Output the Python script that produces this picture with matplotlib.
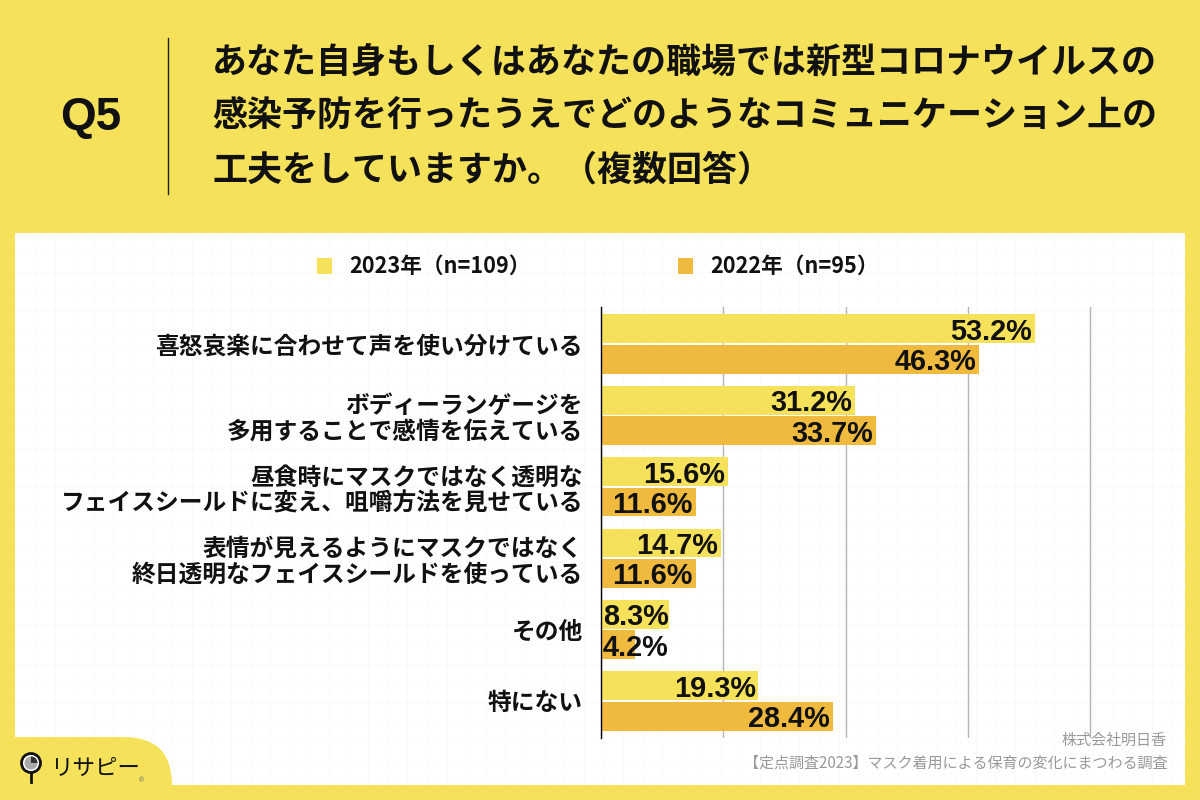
import matplotlib
matplotlib.use("Agg")
import matplotlib.pyplot as plt
from matplotlib.patches import Rectangle, FancyBboxPatch, Circle, Wedge
import numpy as np

plt.rcParams['font.family'] = ['Noto Sans CJK JP', 'DejaVu Sans']

categories = ["喜怒哀楽に合わせて声を使い分けている",
              "ボディーランゲージを\n多用することで感情を伝えている",
              "昼食時にマスクではなく透明な\nフェイスシールドに変え、咀嚼方法を見せている",
              "表情が見えるようにマスクではなく\n終日透明なフェイスシールドを使っている",
              "その他",
              "特にない"]
values_2023 = [53.2, 31.2, 15.6, 14.7, 8.3, 19.3]
values_2022 = [46.3, 33.7, 11.6, 11.6, 4.2, 28.4]
label_2023 = "2023年（n=109）"
label_2022 = "2022年（n=95）"
x_ticks = [0, 15, 30, 45, 60]
title_lines = ["あなた自身もしくはあなたの職場では新型コロナウイルスの",
               "感染予防を行ったうえでどのようなコミュニケーション上の",
               "工夫をしていますか。（複数回答）"]
source_lines = ["株式会社明日香", "【定点調査2023】マスク着用による保育の変化にまつわる調査"]

YELLOW = "#F6E25A"
ORANGE = "#EFBA3E"
W, H = 1200, 800
fig = plt.figure(figsize=(12, 8), dpi=100, facecolor=YELLOW)

bg = fig.add_axes([0, 0, 1, 1], zorder=0)
bg.set_xlim(0, W); bg.set_ylim(H, 0); bg.axis("off")
bg.add_patch(Rectangle((15, 233), 1170, 552, fc="white", ec="none"))
for gx in np.arange(35, 1185, 19.6):
    bg.plot([gx, gx], [233, 785], color="#FAFAFA", lw=0.7, zorder=1)
for gy in np.arange(252, 785, 19.6):
    bg.plot([15, 1185], [gy, gy], color="#FAFAFA", lw=0.7, zorder=1)
# logo tab
bg.add_patch(FancyBboxPatch((-60, 737), 232, 120, boxstyle="round,pad=0,rounding_size=48",
                            fc=YELLOW, ec="none", zorder=2))
bg.add_patch(Rectangle((0, 737), 15, 63, fc=YELLOW, ec="none", zorder=2))
bg.add_patch(Rectangle((0, 785), 1200, 15, fc=YELLOW, ec="none", zorder=2))
# header
bg.plot([167.5, 167.5], [38, 194], color="#222222", lw=1, zorder=3)
bg.text(91, 118, "Q5", fontsize=33, fontweight="bold", family=["Liberation Sans", "Noto Sans CJK JP"],
        ha="center", va="center", color="#111111", zorder=3)
for yy, s in zip([62, 116, 170], title_lines):
    bg.text(212, yy, s, fontsize=25.2, fontweight="bold", ha="left", va="center", color="#111111", zorder=3)
# legend
bg.add_patch(Rectangle((317, 258), 15, 16, fc=YELLOW, ec="none", zorder=3))
bg.add_patch(Rectangle((678, 258), 15, 16, fc=ORANGE, ec="none", zorder=3))
bg.text(349, 266, label_2023, fontsize=15.6, fontweight="bold", va="center", ha="left", color="#111111", zorder=3)
bg.text(710, 266, label_2022, fontsize=15.6, fontweight="bold", va="center", ha="left", color="#111111", zorder=3)
# source
bg.text(1167, 740, source_lines[0], fontsize=10.85, color="#999999", ha="right", va="center", zorder=3)
bg.text(1167, 763, source_lines[1], fontsize=10.85, color="#999999", ha="right", va="center", zorder=3)
# logo
bg.add_patch(Circle((31, 763), 9.5, fc="white", ec="#111111", lw=2, zorder=4))
bg.add_patch(Circle((31, 763), 6.5, fc="#AAAAAA", ec="none", zorder=5))
bg.add_patch(Wedge((31, 763), 6.5, 270, 360, fc="#333333", ec="none", zorder=6))
bg.plot([31, 31], [773, 782], color="#111111", lw=2, zorder=4)
bg.text(95, 768, "リサピー", fontsize=16.2, color="#111111", ha="center", va="center", zorder=4)
bg.text(142, 780.5, "®", fontsize=5, color="#777777", ha="center", va="center", zorder=4,
        family=["DejaVu Sans"])

# chart axes: x 601.., y 307..738 px
ax = fig.add_axes([601/W, 1-738/H, 493.5/W, (738-307)/H], zorder=5)
ax.patch.set_alpha(0)
y = np.arange(len(categories))
h = 0.405
ax.barh(y - 0.213, values_2023, height=h, color=YELLOW, zorder=2)
ax.barh(y + 0.213, values_2022, height=h, color=ORANGE, zorder=2)
ax.set_xlim(x_ticks[0], 60.5)
ax.set_ylim(5.52, -0.52)
ax.set_xticks(x_ticks)
ax.tick_params(axis="x", length=0, labelbottom=False)
ax.tick_params(axis="y", length=0, pad=13)
ax.set_yticks(y)
ax.set_yticklabels(categories, fontsize=17.1, fontweight="bold", color="#111111", ha="right",
                   linespacing=1.1)
ax.grid(axis="x", color="#B4B4B4", lw=1, zorder=1)
for s in ["top", "right", "bottom"]:
    ax.spines[s].set_visible(False)
ax.spines["left"].set_color("black")
ax.spines["left"].set_linewidth(1)
ax.spines["left"].set_zorder(4)
label_floor = min(values_2023)
for i, (a, b) in enumerate(zip(values_2023, values_2022)):
    for v, off in ((a, -0.213), (b, 0.213)):
        dx = 0 if v <= label_floor else -2
        ax.annotate(f"{v:.1f}%", (max(v, label_floor), i + off), xytext=(dx, 0), textcoords="offset points",
                    ha="right", va="center_baseline", fontsize=20.8, fontweight="bold",
                    family=["Liberation Sans", "Noto Sans CJK JP"], color="#111111", zorder=5)
fig.savefig("out.png", dpi=100, facecolor=fig.get_facecolor())
